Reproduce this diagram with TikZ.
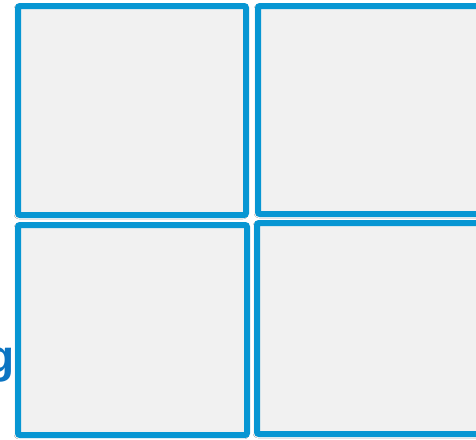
\documentclass[tikz,border=0pt]{standalone}
\usepackage{fontspec}
\setmainfont{Liberation Sans}
\usetikzlibrary{shadows.blur}
\definecolor{panelblue}{HTML}{0796D3}
\definecolor{panelfill}{HTML}{F1F1F1}
\definecolor{textblue}{HTML}{0B74C2}
\begin{document}
\begin{tikzpicture}[x=1pt,y=-1pt,
  panel/.style={draw=panelblue, line width=6pt, fill=panelfill, rounded corners=2pt,
    inner sep=0pt, outer sep=0pt, anchor=north west,
    blur shadow={shadow blur steps=6, shadow xshift=-1pt, shadow yshift=-1pt, shadow blur radius=3pt, shadow opacity=45}}]
\useasboundingbox (0,0) rectangle (476,439);
\begin{scope}
\clip (0,0) rectangle (476,439);
\fill[white] (0,0) rectangle (476,439);
\node[font=\bfseries\fontsize{46}{52}\selectfont, text=textblue, anchor=base east, inner sep=0pt] (lbl) at (14.5,372) {g};
\node[panel, minimum width=228pt, minimum height=209pt] (tl) at (18,6) {};
\node[panel, minimum width=240pt, minimum height=208pt] (tr) at (258,6) {};
\node[panel, minimum width=229pt, minimum height=210pt] (bl) at (18,225) {};
\node[panel, minimum width=240pt, minimum height=211pt] (br) at (257,223) {};
\end{scope}
\end{tikzpicture}
\end{document}
